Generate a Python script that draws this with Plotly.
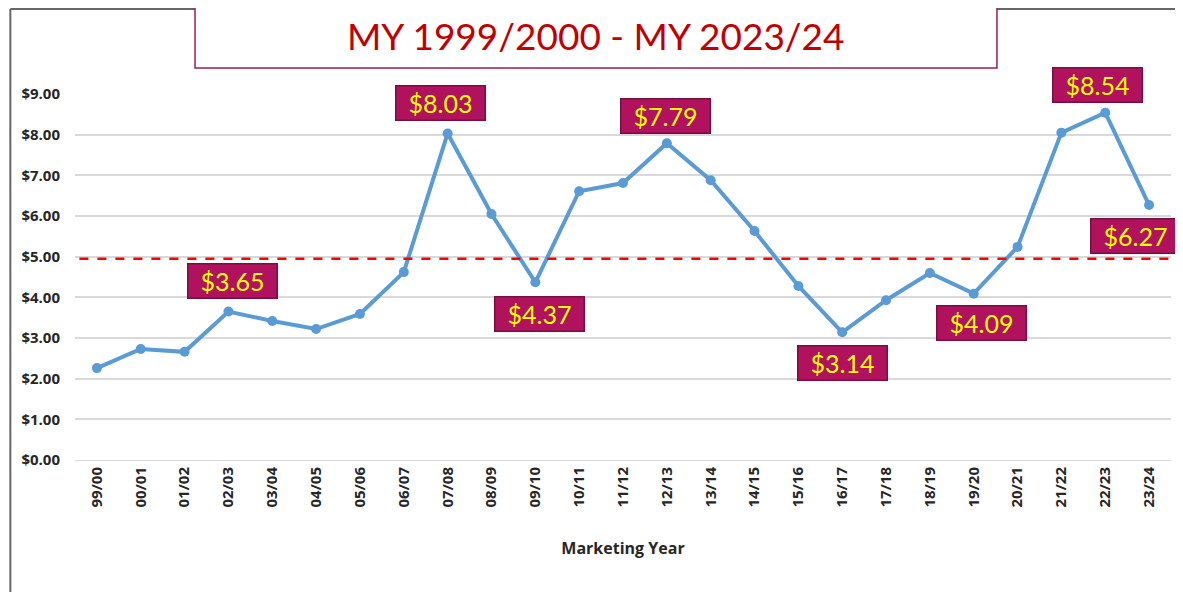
import plotly.graph_objects as go

# marketing years and average price ($)
years = ["99/00", "00/01", "01/02", "02/03", "03/04", "04/05", "05/06", "06/07",
         "07/08", "08/09", "09/10", "10/11", "11/12", "12/13", "13/14", "14/15",
         "15/16", "16/17", "17/18", "18/19", "19/20", "20/21", "21/22", "22/23", "23/24"]
prices = [2.26, 2.73, 2.66, 3.65, 3.42, 3.22, 3.59, 4.62, 8.03, 6.05, 4.37, 6.61, 6.81,
          7.79, 6.88, 5.63, 4.28, 3.14, 3.93, 4.60, 4.09, 5.24, 8.05, 8.54, 6.27]
avg_line = 4.95

# labelled points and where the callout sits (pixel offsets)
callout_years = ["02/03", "07/08", "09/10", "12/13", "16/17", "19/20", "22/23", "23/24"]
callout_shift = [(4, 31), (-7, 30), (4, -32), (-1, 27), (0, -31), (8, -29), (-8, 28), (-14, -31)]

fig = go.Figure()
fig.add_trace(go.Scatter(
    x=years, y=prices, mode="lines+markers",
    line=dict(color="#5B9BD5", width=4),
    marker=dict(color="#5B9BD5", size=10),
    hoverinfo="x+y", showlegend=False,
))

for yr, (dx, dy) in zip(callout_years, callout_shift):
    val = prices[years.index(yr)]
    fig.add_annotation(
        x=yr, y=val, text=f"${val:.2f}", showarrow=False,
        xshift=dx, yshift=dy, width=82, height=27,
        font=dict(family="Lato", size=25, color="#FFFF00"),
        bgcolor="#B0125E", bordercolor="#7A0E40", borderwidth=1.5, borderpad=3,
    )

# reference line
fig.add_shape(type="line", xref="paper", yref="y", x0=0.004, x1=1.02, y0=avg_line, y1=avg_line,
              line=dict(color="#FF0000", width=2.5, dash="dash"))

# sheet frame
fig.add_shape(type="line", xref="paper", yref="paper", x0=-0.059, x1=-0.059, y0=-0.4, y1=1.232,
              line=dict(color="#666666", width=2))
fig.add_shape(type="line", xref="paper", yref="paper", x0=-0.059, x1=0.11, y0=1.232, y1=1.232,
              line=dict(color="#666666", width=2))
fig.add_shape(type="line", xref="paper", yref="paper", x0=0.84, x1=1.02, y0=1.232, y1=1.232,
              line=dict(color="#666666", width=2))

# title box
fig.add_shape(type="rect", xref="paper", yref="paper", x0=0.1095, x1=0.8412, y0=1.071, y1=1.27,
              line=dict(color="#9B1B5A", width=1.5), fillcolor="white")
fig.add_annotation(xref="paper", yref="paper", x=0.4754, y=1.161, xanchor="center", yanchor="middle",
                   showarrow=False, text="MY 1999/2000 - MY 2023/24",
                   font=dict(family="Lato", size=37, color="#C00000"))

# the page body adds an 8px offset, so margins are shifted to compensate
fig.update_layout(
    width=1183, height=592,
    margin=dict(l=67, r=20, t=86, b=140),
    paper_bgcolor="white", plot_bgcolor="white",
    font=dict(family="Open Sans", color="#262626"),
)
fig.update_xaxes(
    type="category", range=[-0.5, 24.5], tickangle=-90,
    tickfont=dict(size=15, family="Open Sans", weight="bold", color="#262626"),
    showgrid=False, showline=True, linecolor="#D9D9D9", ticks="",
    title=dict(text="Marketing Year", font=dict(size=16, family="Open Sans", weight="bold"), standoff=36),
)
fig.update_yaxes(
    range=[0, 9], dtick=1, tickformat="$.2f",
    tickfont=dict(size=15, family="Open Sans", weight="bold", color="#262626"),
    gridcolor="#D9D9D9", gridwidth=1.5, zeroline=False, ticklabelstandoff=14,
)

fig.write_html("out.html")
